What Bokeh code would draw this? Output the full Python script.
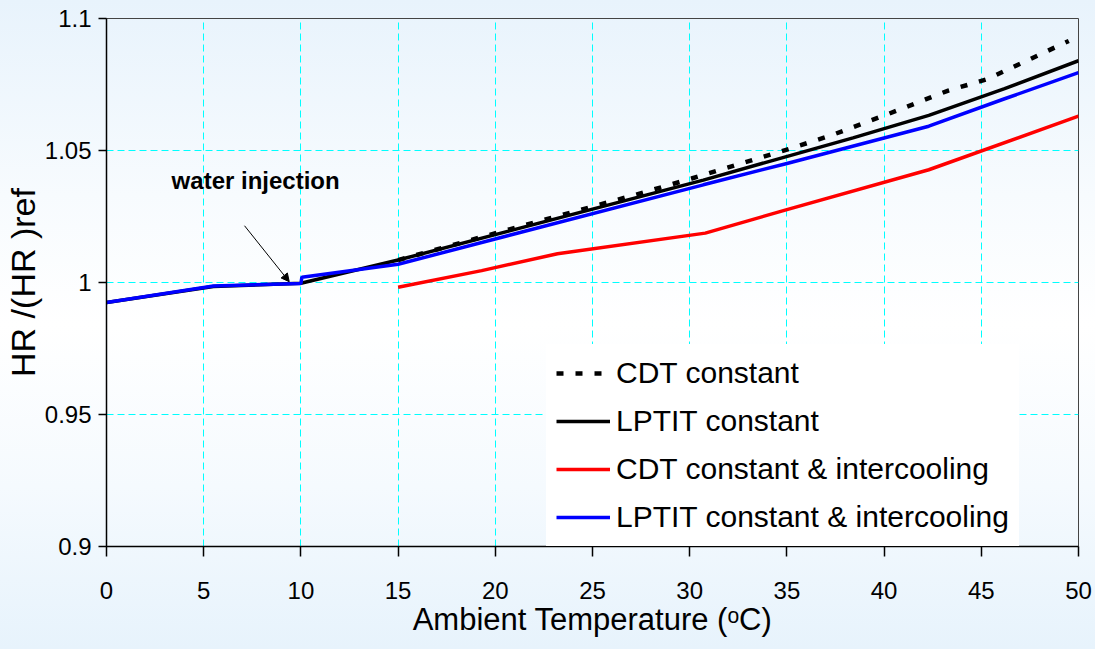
from bokeh.plotting import figure
from bokeh.models import (Range1d, Legend, LegendItem, Arrow, NormalHead, Label,
                          FixedTicker)
from bokeh.embed import file_html
from bokeh.resources import INLINE

# ---- data ----
cdt_x = [15, 22.2, 27.2, 30.1, 35.2, 37.3, 40.2, 43.3, 45.3, 49.5]
cdt_y = [1.0085, 1.0231, 1.0332, 1.0394, 1.0508, 1.0558, 1.0638, 1.0727, 1.0770, 1.0915]

lptit_x = [0, 5.5, 10, 15, 30.7, 38.4, 42.3, 46.2, 50]
lptit_y = [0.9924, 0.9985, 0.9997, 1.0085, 1.0388, 1.0548, 1.0633, 1.0734, 1.0840]

cdt_ic_x = [15, 19.3, 23.2, 30.8, 35, 42.3, 50]
cdt_ic_y = [0.9982, 1.0045, 1.0109, 1.0187, 1.0276, 1.0427, 1.0630]

lptit_ic_x = [0, 5.5, 10, 10.05, 15, 30.7, 35, 42.3, 46.2, 50]
lptit_ic_y = [0.9924, 0.9987, 0.9996, 1.0020, 1.0069, 1.0370, 1.0451, 1.0592, 1.0696, 1.0795]

x_ticks = [0, 5, 10, 15, 20, 25, 30, 35, 40, 45, 50]
y_ticks = [0.9, 0.95, 1.0, 1.05, 1.1]
y_tick_labels = {0.9: "0.9", 0.95: "0.95", 1.0: "1", 1.05: "1.05", 1.1: "1.1"}

series_names = ["CDT constant", "LPTIT constant",
                "CDT constant & intercooling", "LPTIT constant & intercooling"]

note_text = "water injection"
note_pos = (3.35, 1.0335)
arrow_start = (7.1, 1.0215)
arrow_end = (9.4, 1.0003)

FONT = "Liberation Sans"

p = figure(width=1095, height=649, output_backend="svg", toolbar_location=None,
           x_range=Range1d(0, 50), y_range=Range1d(0.9, 1.1),
           min_border_left=105, min_border_right=17, min_border_top=18,
           min_border_bottom=103)
p.border_fill_color = None
p.background_fill_color = None
p.styles = {"background": "linear-gradient(to bottom, #e8f3fc 0%, #f7fbfe 30%, #ffffff 50%, #f5fafe 75%, #e7f3fc 100%)"}
p.outline_line_color = "#444444"
p.outline_line_width = 1

# grid
p.xgrid.ticker = FixedTicker(ticks=x_ticks)
p.ygrid.ticker = FixedTicker(ticks=y_ticks)
for g in (p.xgrid, p.ygrid):
    g.grid_line_color = "#00ffff"
    g.grid_line_dash = "7 4"
    g.grid_line_width = 1

# axes
p.xaxis.ticker = FixedTicker(ticks=x_ticks)
p.yaxis.ticker = FixedTicker(ticks=y_ticks)
p.yaxis.major_label_overrides = y_tick_labels
for ax in (p.xaxis, p.yaxis):
    ax.axis_line_color = "black"
    ax.axis_line_width = 1.5
    ax.major_tick_line_color = "black"
    ax.major_tick_line_width = 1.5
    ax.major_tick_in = 0
    ax.minor_tick_line_color = None
    ax.major_label_text_font = FONT
    ax.major_label_text_font_size = "24px"
    ax.major_label_text_color = "black"
    ax.axis_label_text_font_style = "normal"
    ax.axis_label_text_color = "black"
    ax.axis_label_text_font = FONT
p.xaxis.major_tick_out = 10
p.yaxis.major_tick_out = 8
p.xaxis.major_label_standoff = 25
p.yaxis.major_label_standoff = 7
p.xaxis.axis_label = "Ambient Temperature (\u1d52C)"
p.xaxis.axis_label_text_font_size = "31px"
p.xaxis.axis_label_standoff = 0
p.yaxis.axis_label = "HR /(HR )ref"
p.yaxis.axis_label_text_font_size = "34px"
p.yaxis.axis_label_standoff = 0

# series
r_lptit = p.line(lptit_x, lptit_y, line_color="black", line_width=3.5)
r_cdt_ic = p.line(cdt_ic_x, cdt_ic_y, line_color="#ff0000", line_width=3.5)
r_lptit_ic = p.line(lptit_ic_x, lptit_ic_y, line_color="#0000ff", line_width=3.5)
r_cdt = p.line(cdt_x, cdt_y, line_color="black", line_width=4.5, line_dash="7 12")

legend = Legend(items=[
    LegendItem(label=series_names[0], renderers=[r_cdt]),
    LegendItem(label=series_names[1], renderers=[r_lptit]),
    LegendItem(label=series_names[2], renderers=[r_cdt_ic]),
    LegendItem(label=series_names[3], renderers=[r_lptit_ic]),
], location=(440, 0))
legend.label_text_font = FONT
legend.label_text_font_size = "30px"
legend.label_text_color = "black"
legend.glyph_width = 54
legend.glyph_height = 38
legend.label_height = 38
legend.spacing = 10
legend.padding = 10
legend.margin = 0
legend.label_standoff = 6
legend.border_line_alpha = 0
legend.background_fill_color = "white"
legend.background_fill_alpha = 1
p.add_layout(legend, "center")

p.add_layout(Arrow(end=NormalHead(size=8, fill_color="black", line_color="black", line_width=1),
                   x_start=arrow_start[0], y_start=arrow_start[1],
                   x_end=arrow_end[0], y_end=arrow_end[1],
                   line_color="black", line_width=1))
p.add_layout(Label(x=note_pos[0], y=note_pos[1], text=note_text,
                   text_font=FONT, text_font_style="bold",
                   text_font_size="24px", text_color="black"))

open("out.html", "w").write(file_html(p, INLINE))
